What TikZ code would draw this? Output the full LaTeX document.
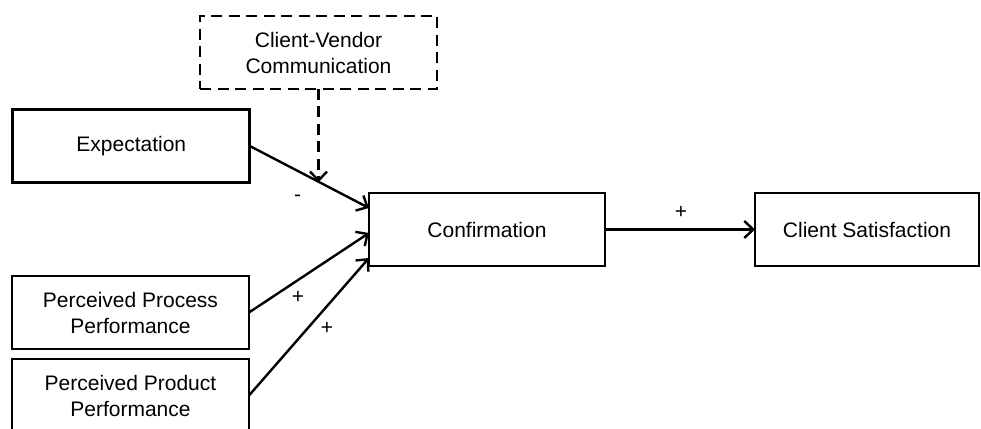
\documentclass[tikz,border=0pt]{standalone}
\usepackage{fontspec}
\setmainfont{Liberation Sans}
\usetikzlibrary{arrows.meta,calc}
\begin{document}
\begin{tikzpicture}[x=1pt,y=1pt,
  box/.style={draw=black, line width=2.8pt, rectangle, align=center,
    minimum width=237pt, minimum height=73pt, inner sep=0pt, outer sep=0pt,
    font=\fontsize{21}{26}\selectfont},
  dashbox/.style={box, dash pattern=on 11pt off 6.5pt},
  link/.style={line width=2.4pt, -{Straight Barb[length=9pt,width=17pt]}},
  dashlink/.style={link, dash pattern=on 11pt off 6.5pt},
  sign/.style={font=\fontsize{21}{26}\selectfont, inner sep=0pt}]
  \clip (0,0) rectangle (981,428);
  \fill[white] (0,0) rectangle (981,428);

  % factors
  \node[dashbox] (cvc) at (318.5,375.5) {Client-Vendor\\Communication};
  \node[box] (exp)  at (131.3,282)  {Expectation};
  \node[box] (proc) at (130.5,115.5) {Perceived Process\\Performance};
  \node[box] (prod) at (130.5,32.5)  {Perceived Product\\Performance};
  \node[box, minimum width=236pt] (conf) at (487,198.5) {Confirmation};
  \node[box, minimum width=224pt] (sat) at (867,198.5) {Client Satisfaction};

  % effects on confirmation
  \draw[link] (exp.east) -- coordinate[pos=0.585] (moderated) ($(conf.west)+(0,21.5)$);
  \draw[link] (proc.east) -- ($(conf.west)+(0,-3.5)$);
  \draw[link] (prod.east) -- ($(conf.west)+(0,-28.5)$);
  \draw[link] (conf.east) -- (sat.west);

  % moderating influence of communication
  \draw[dashlink] (cvc.south) -- (cvc.south |- moderated);

  % signs of the effects
  \node[sign] (sminus) at (297.5,230) {-};
  \node[sign] (sproc)  at (298,131) {+};
  \node[sign] (sprod)  at (327,100) {+};
  \node[sign] (ssat)   at (681,216) {+};
\end{tikzpicture}
\end{document}
